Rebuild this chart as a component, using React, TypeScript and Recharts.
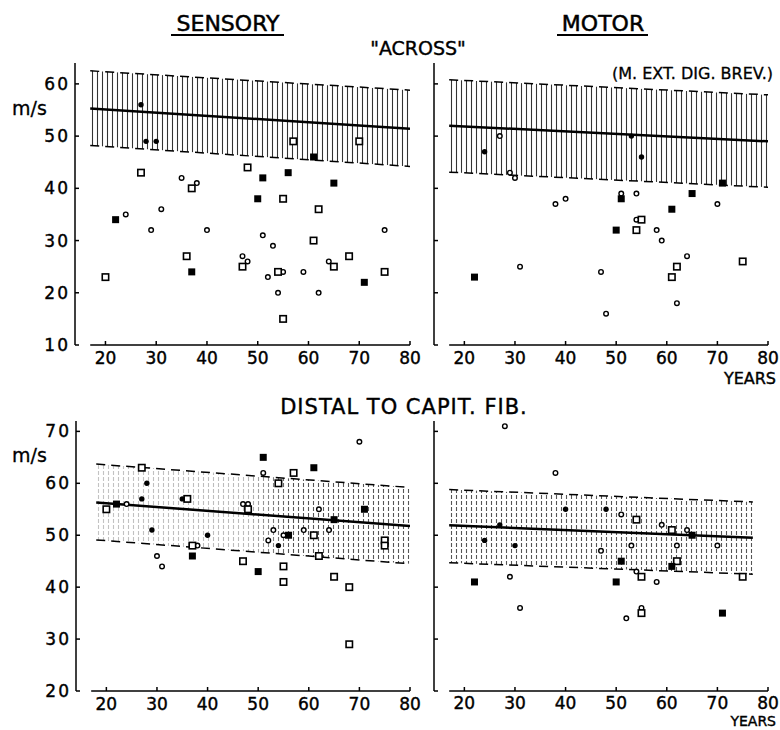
import React from 'react';
import { ComposedChart, XAxis, YAxis, Scatter, Line, Area, ReferenceLine } from 'recharts';

type P = [number, number];

// ---------- axis ticks ----------
const xTicks = [20, 30, 40, 50, 60, 70, 80];
const yTicksTop = [10, 20, 30, 40, 50, 60];
const yTicksBottom = [20, 30, 40, 50, 60, 70];
const xDomain: [number, number] = [14, 80];
const yDomainTop: [number, number] = [10, 64];
const yDomainBottom: [number, number] = [20, 72];

// ---------- SENSORY "ACROSS" ----------
const saFilledSq: P[] = [[22, 34], [37, 24], [50, 38], [51, 42], [56, 43], [61, 46], [65, 41], [71, 22]];
const saOpenSq: P[] = [[20, 23], [27, 43], [36, 27], [37, 40], [47, 25], [48, 44], [54, 24], [55, 38], [55, 15], [57, 49], [61, 30], [62, 36], [65, 25], [68, 27], [70, 49], [75, 24]];
const saOpenCirc: P[] = [[24, 35], [29, 32], [31, 36], [35, 42], [38, 41], [40, 32], [47, 27], [48, 26], [51, 31], [52, 23], [53, 29], [54, 20], [55, 24], [59, 24], [62, 20], [64, 26], [75, 32]];
const saDot: P[] = [[27, 56], [28, 49], [30, 49]];
const saX = [17, 80];
const saReg = [55.3, 51.4];
const saUpper = [62.5, 58.8];
const saLower = [48.2, 44.2];

// ---------- MOTOR "ACROSS" ----------
const maFilledSq: P[] = [[22, 23], [50, 32], [51, 38], [61, 36], [65, 39], [71, 41]];
const maOpenSq: P[] = [[54, 32], [55, 34], [61, 23], [62, 25], [75, 26]];
const maOpenCirc: P[] = [[27, 50], [29, 43], [30, 42], [31, 25], [38, 37], [40, 38], [47, 24], [48, 16], [51, 39], [54, 39], [54, 34], [58, 32], [59, 30], [62, 18], [64, 27], [70, 37]];
const maDot: P[] = [[24, 47], [53, 50], [55, 46]];
const maX = [17, 80];
const maReg = [52.0, 49.0];
const maUpper = [60.8, 57.9];
const maLower = [43.1, 40.2];

// ---------- SENSORY DISTAL ----------
const sdFilledSq: P[] = [[22, 56], [37, 46], [50, 43], [51, 65], [56, 50], [61, 63], [65, 53], [71, 55]];
const sdOpenSq: P[] = [[20, 55], [27, 63], [36, 57], [37, 48], [47, 45], [48, 55], [54, 60], [55, 44], [55, 41], [57, 62], [61, 50], [62, 46], [65, 42], [68, 40], [68, 29], [75, 49], [75, 48]];
const sdOpenCirc: P[] = [[24, 56], [30, 46], [31, 44], [38, 48], [47, 56], [48, 56], [51, 62], [52, 49], [53, 51], [55, 50], [59, 51], [62, 55], [64, 51], [70, 68]];
const sdDot: P[] = [[27, 57], [28, 60], [29, 51], [35, 57], [40, 50], [54, 48]];
const sdX = [18, 80];
const sdReg = [56.3, 51.8];
const sdUpper = [63.7, 59.2];
const sdLower = [49.1, 44.5];

// ---------- MOTOR DISTAL ----------
const mdFilledSq: P[] = [[22, 41], [50, 41], [51, 45], [61, 44], [65, 50], [71, 35]];
const mdOpenSq: P[] = [[54, 53], [55, 42], [55, 35], [61, 51], [62, 45], [75, 42]];
const mdOpenCirc: P[] = [[28, 71], [29, 42], [31, 36], [38, 62], [47, 47], [51, 54], [52, 34], [53, 48], [54, 43], [55, 36], [58, 41], [59, 52], [62, 48], [64, 51], [70, 48]];
const mdDot: P[] = [[24, 49], [27, 52], [30, 48], [40, 55], [48, 55]];
const mdX = [17, 77];
const mdReg = [51.9, 49.5];
const mdUpper = [58.8, 56.4];
const mdLower = [44.7, 42.5];

const FONT = '"DejaVu Sans", Verdana, sans-serif';

const pts = (a: P[]) => a.map(([x, y]) => ({ x, y }));
const line = (xs: number[], ys: number[]) => xs.map((x, i) => ({ x, y: ys[i] }));
const bandData = (xs: number[], lo: number[], hi: number[]) => xs.map((x, i) => ({ x, range: [lo[i], hi[i]] }));

const FilledSquare = (p: any) => <rect x={p.cx - 3.5} y={p.cy - 3.5} width={7} height={7} fill="#000" />;
const OpenSquare = (p: any) => (
  <rect x={p.cx - 3.2} y={p.cy - 3.2} width={6.4} height={6.4} fill="#fff" stroke="#000" strokeWidth={1.6} />
);
const OpenCircle = (p: any) => <circle cx={p.cx} cy={p.cy} r={2.3} fill="#fff" stroke="#000" strokeWidth={1.4} />;
const Dot = (p: any) => <circle cx={p.cx} cy={p.cy} r={2.7} fill="#000" />;

const makeXTick = (labelOffset: number) => (props: any) => {
  const { x, y, payload } = props;
  return (
    <g>
      <line x1={x} x2={x} y1={y} y2={y - 4} stroke="#000" strokeWidth={1.5} />
      <text x={x} y={y + labelOffset} textAnchor="middle" dominantBaseline="central" fontFamily={FONT} fontSize={17} fill="#000" stroke="#000" strokeWidth={0.4}>
        {payload.value}
      </text>
    </g>
  );
};

const makeYTick = (showLabel: boolean) => (props: any) => {
  const { x, y, payload } = props;
  return (
    <g>
      <line x1={x} x2={x + 4} y1={y} y2={y} stroke="#000" strokeWidth={1.5} />
      {showLabel && (
        <text x={x - 5} y={y} textAnchor="end" dominantBaseline="central" fontFamily={FONT} fontSize={17} letterSpacing={2} fill="#000" stroke="#000" strokeWidth={0.4}>
          {payload.value}
        </text>
      )}
    </g>
  );
};

const YW = 70;
const MR = 12;
const MT = 10;
const XH = 40;

type PanelProps = {
  id: string;
  left: number;
  top: number;
  w: number;
  h: number;
  yDomain: [number, number];
  yTicks: number[];
  showYLabels: boolean;
  labelOffset: number;
  xs: number[];
  reg: number[];
  upper: number[];
  lower: number[];
  fsq: P[];
  osq: P[];
  oc: P[];
  dt: P[];
  hatchColor: string;
  hatchDash?: string;
  fade?: boolean;
};

function Panel(pr: PanelProps) {
  const { id, left, top, w, h, yDomain, yTicks, showYLabels, labelOffset, xs, reg, upper, lower, fsq, osq, oc, dt, hatchColor, hatchDash, fade } = pr;
  const band = bandData(xs, lower, upper);
  return (
    <div style={{ position: 'absolute', left: left - YW, top: top - MT }}>
      <ComposedChart width={YW + w + MR} height={MT + h + XH} margin={{ top: MT, right: MR, bottom: 0, left: 0 }}>
        <defs>
          <pattern id={`hatch-${id}`} patternUnits="userSpaceOnUse" width={5} height={6}>
            <line x1={2.5} y1={0} x2={2.5} y2={6} stroke={hatchColor} strokeWidth={1.1} strokeDasharray={hatchDash} />
          </pattern>
          <linearGradient id={`fade-${id}`} x1="0" y1="0" x2="1" y2="0">
            <stop offset="0%" stopColor="#fff" stopOpacity={0.65} />
            <stop offset="48%" stopColor="#fff" stopOpacity={0.6} />
            <stop offset="62%" stopColor="#fff" stopOpacity={0} />
            <stop offset="100%" stopColor="#fff" stopOpacity={0} />
          </linearGradient>
        </defs>
        <XAxis
          type="number"
          dataKey="x"
          domain={xDomain}
          ticks={xTicks}
          interval={0}
          allowDataOverflow
          axisLine={false}
          tickLine={false}
          tickSize={0}
          tickMargin={0}
          height={XH}
          tick={makeXTick(labelOffset)}
        />
        <YAxis
          type="number"
          domain={yDomain}
          ticks={yTicks}
          interval={0}
          allowDataOverflow
          width={YW}
          axisLine={{ stroke: '#000', strokeWidth: 1.5 }}
          tickLine={false}
          tickSize={0}
          tickMargin={0}
          tick={makeYTick(showYLabels)}
        />
        <Area
          data={band}
          dataKey="range"
          type="linear"
          stroke="none"
          fill={`url(#hatch-${id})`}
          fillOpacity={1}
          isAnimationActive={false}
          activeDot={false}
        />
        {fade && (
          <Area
            data={band}
            dataKey="range"
            type="linear"
            stroke="none"
            fill={`url(#fade-${id})`}
            fillOpacity={1}
            isAnimationActive={false}
            activeDot={false}
          />
        )}
        <Line data={line(xs, upper)} dataKey="y" type="linear" stroke="#000" strokeWidth={1.5} strokeDasharray="9 6" dot={false} activeDot={false} isAnimationActive={false} />
        <Line data={line(xs, lower)} dataKey="y" type="linear" stroke="#000" strokeWidth={1.5} strokeDasharray="9 6" dot={false} activeDot={false} isAnimationActive={false} />
        <Line data={line(xs, reg)} dataKey="y" type="linear" stroke="#000" strokeWidth={2.5} dot={false} activeDot={false} isAnimationActive={false} />
        <ReferenceLine
          segment={[{ x: 17, y: yDomain[0] }, { x: 80, y: yDomain[0] }]}
          stroke="#000"
          strokeWidth={1.6}
          ifOverflow="visible"
        />
        <Scatter data={pts(oc)} dataKey="y" shape={OpenCircle} isAnimationActive={false} />
        <Scatter data={pts(osq)} dataKey="y" shape={OpenSquare} isAnimationActive={false} />
        <Scatter data={pts(dt)} dataKey="y" shape={Dot} isAnimationActive={false} />
        <Scatter data={pts(fsq)} dataKey="y" shape={FilledSquare} isAnimationActive={false} />
      </ComposedChart>
    </div>
  );
}

export default function App() {
  return (
    <div style={{ position: 'absolute', left: 0, top: 0, width: 780, height: 730, background: '#fff', overflow: 'hidden' }}>
      <Panel
        id="sa" left={75} top={63} w={335} h={282}
        yDomain={yDomainTop} yTicks={yTicksTop} showYLabels labelOffset={13}
        xs={saX} reg={saReg} upper={saUpper} lower={saLower}
        fsq={saFilledSq} osq={saOpenSq} oc={saOpenCirc} dt={saDot}
        hatchColor="#333"
      />
      <Panel
        id="ma" left={434} top={63} w={334} h={282}
        yDomain={yDomainTop} yTicks={yTicksTop} showYLabels={false} labelOffset={13}
        xs={maX} reg={maReg} upper={maUpper} lower={maLower}
        fsq={maFilledSq} osq={maOpenSq} oc={maOpenCirc} dt={maDot}
        hatchColor="#333"
      />
      <Panel
        id="sd" left={76} top={421} w={334} h={270}
        yDomain={yDomainBottom} yTicks={yTicksBottom} showYLabels labelOffset={13}
        xs={sdX} reg={sdReg} upper={sdUpper} lower={sdLower}
        fsq={sdFilledSq} osq={sdOpenSq} oc={sdOpenCirc} dt={sdDot}
        hatchColor="#555" hatchDash="4 2" fade
      />
      <Panel
        id="md" left={434} top={421} w={334} h={270}
        yDomain={yDomainBottom} yTicks={yTicksBottom} showYLabels={false} labelOffset={12}
        xs={mdX} reg={mdReg} upper={mdUpper} lower={mdLower}
        fsq={mdFilledSq} osq={mdOpenSq} oc={mdOpenCirc} dt={mdDot}
        hatchColor="#555" hatchDash="4 2"
      />
      <svg width={780} height={730} style={{ position: 'absolute', left: 0, top: 0, pointerEvents: 'none' }}>
        <g fontFamily={FONT} fill="#000">
          <text x={228} y={23} textAnchor="middle" dominantBaseline="central" fontSize={22} stroke="#000" strokeWidth={0.5}>SENSORY</text>
          <line x1={171} x2={284} y1={35} y2={35} stroke="#000" strokeWidth={2.2} />
          <text x={603} y={23} textAnchor="middle" dominantBaseline="central" fontSize={22} stroke="#000" strokeWidth={0.5}>MOTOR</text>
          <line x1={557} x2={648} y1={35} y2={35} stroke="#000" strokeWidth={2.2} />
          <text x={418} y={48} textAnchor="middle" dominantBaseline="central" fontSize={19} stroke="#000" strokeWidth={0.4}>"ACROSS"</text>
          <text x={773} y={73} textAnchor="end" dominantBaseline="central" fontSize={16} stroke="#000" strokeWidth={0.3}>(M. EXT. DIG. BREV.)</text>
          <text x={12} y={108} dominantBaseline="central" fontSize={19} stroke="#000" strokeWidth={0.3}>m/s</text>
          <text x={776} y={378} textAnchor="end" dominantBaseline="central" fontSize={16} stroke="#000" strokeWidth={0.4}>YEARS</text>
          <text x={404} y={407} textAnchor="middle" dominantBaseline="central" fontSize={21} letterSpacing={1} stroke="#000" strokeWidth={0.4}>DISTAL TO CAPIT. FIB.</text>
          <text x={12} y={455} dominantBaseline="central" fontSize={19} stroke="#000" strokeWidth={0.3}>m/s</text>
          <text x={776} y={721} textAnchor="end" dominantBaseline="central" fontSize={14} stroke="#000" strokeWidth={0.4}>YEARS</text>
        </g>
      </svg>
    </div>
  );
}
